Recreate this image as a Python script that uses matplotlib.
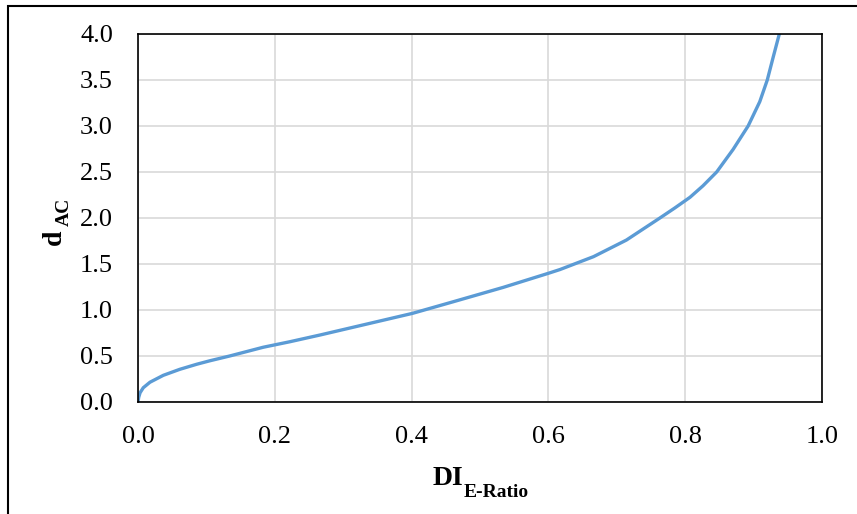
import matplotlib
matplotlib.use("Agg")
import matplotlib.pyplot as plt
from matplotlib.patches import Rectangle

# values
di_ratio = [0.0, 0.001, 0.003, 0.0077, 0.0175, 0.037, 0.061, 0.0857, 0.105,
            0.134, 0.183, 0.222, 0.266, 0.339, 0.401, 0.461, 0.534, 0.600,
            0.617, 0.666, 0.714, 0.763, 0.785, 0.807, 0.826, 0.846, 0.870,
            0.892, 0.909, 0.920, 0.9288, 0.9376]
d_ac = [0.0, 0.05, 0.10, 0.155, 0.215, 0.29, 0.355, 0.41, 0.448,
        0.50, 0.595, 0.655, 0.728, 0.855, 0.963, 1.09, 1.246, 1.399,
        1.44, 1.58, 1.76, 2.0, 2.11, 2.225, 2.35, 2.5, 2.745,
        3.0, 3.264, 3.5, 3.753, 4.0]

x_ticks = [0.0, 0.2, 0.4, 0.6, 0.8, 1.0]
y_ticks = [0.0, 0.5, 1.0, 1.5, 2.0, 2.5, 3.0, 3.5, 4.0]

plt.rcParams["font.family"] = ["Liberation Serif", "DejaVu Serif"]

W, H = 857, 514
fig = plt.figure(figsize=(W / 100, H / 100), dpi=100)
ax = fig.add_axes([138 / W, 1 - 402 / H, (822 - 138) / W, (402 - 34) / H])

ax.plot(di_ratio, d_ac, color="#5B9BD5", linewidth=2.4,
        solid_capstyle="round", solid_joinstyle="round")

ax.set_xlim(0, 1)
ax.set_ylim(0, 4)
ax.set_xticks(x_ticks)
ax.set_yticks(y_ticks)
ax.set_xticklabels([f"{v:.1f}" for v in x_ticks])
ax.set_yticklabels([f"{v:.1f}" for v in y_ticks])
ax.tick_params(length=0, labelsize=19, colors="black")
ax.tick_params(axis="x", pad=17)
ax.tick_params(axis="y", pad=18)
ax.grid(True, color="#d9d9d9", linewidth=1.2)
ax.set_axisbelow(True)
for s in ax.spines.values():
    s.set_linewidth(1.2)
    s.set_color("black")

# outer chart border (runs off right and bottom edges)
fig.patches.append(Rectangle((8 / W, -0.1), 1.2, 1 - 6 / H + 0.1,
                             transform=fig.transFigure, fill=False,
                             edgecolor="black", linewidth=1.5))

# x label: DI with subscript E-Ratio
fig.text(433 / W, 1 - 485 / H, "DI", fontsize=20, fontweight="bold",
         ha="left", va="baseline")
fig.text(464 / W, 1 - 497 / H, "E-Ratio", fontsize=14, fontweight="bold",
         ha="left", va="baseline")

# y label: d with subscript AC
fig.text(54.5 / W, 1 - 237 / H, "d", fontsize=20, fontweight="bold",
         rotation=90, ha="center", va="center")
fig.text(64 / W, 1 - 212 / H, "AC", fontsize=14, fontweight="bold",
         rotation=90, ha="center", va="center")

fig.savefig("out.png", dpi=100)
